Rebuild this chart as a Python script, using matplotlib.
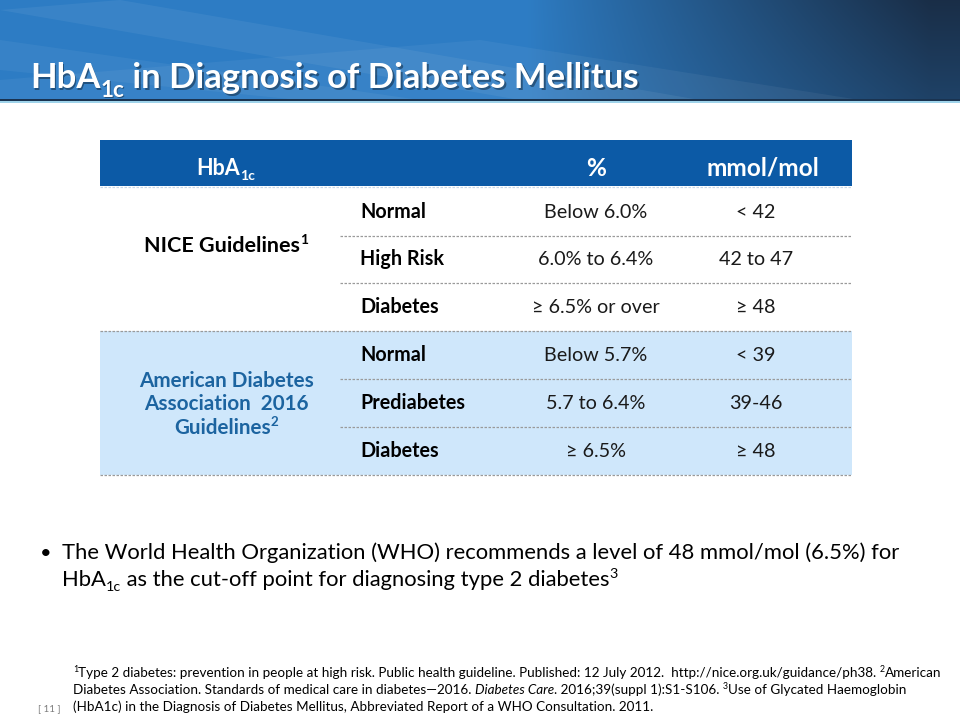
import matplotlib
matplotlib.use("Agg")
import matplotlib.pyplot as plt
from matplotlib.patches import Rectangle, Polygon
import numpy as np

FONT = ["Lato", "DejaVu Sans"]
plt.rcParams["font.family"] = FONT

# --- content ---
title_runs = [("HbA", {}), ("1c", {"sub": True}), (" in Diagnosis of Diabetes Mellitus", {})]
col_headers = ["%", "mmol/mol"]
nice_cats = ["Normal", "High Risk", "Diabetes"]
nice_pct = ["Below 6.0%", "6.0% to 6.4%", "\u2265 6.5% or over"]
nice_mmol = ["< 42", "42 to 47", "\u2265 48"]
ada_cats = ["Normal", "Prediabetes", "Diabetes"]
ada_pct = ["Below 5.7%", "5.7 to 6.4%", "\u2265 6.5%"]
ada_mmol = ["< 39", "39-46", "\u2265 48"]
ada_label = ["American Diabetes", "Association  2016", "Guidelines"]
bullet_line1 = [("The World Health Organization (WHO) recommends a level of 48 mmol/mol (6.5%) for", {})]
bullet_line2 = [("HbA", {}), ("1c", {"sub": True}),
                (" as the cut-off point for diagnosing type 2 diabetes", {}), ("3", {"sup": True})]
footnotes = [
    [("1", {"sup": True}), ("Type 2 diabetes: prevention in people at high risk. Public health guideline. "
                            "Published: 12 July 2012.  http://nice.org.uk/guidance/ph38. ", {}),
     ("2", {"sup": True}), ("American", {})],
    [("Diabetes Association. Standards of medical care in diabetes\u20142016. ", {}),
     ("Diabetes Care", {"style": "italic"}), (". 2016;39(suppl 1):S1-S106. ", {}),
     ("3", {"sup": True}), ("Use of Glycated Haemoglobin", {})],
    [("(HbA1c) in the Diagnosis of Diabetes Mellitus, Abbreviated Report of a WHO Consultation. 2011.", {})],
]

fig = plt.figure(figsize=(9.6, 7.2), dpi=100)
ax = fig.add_axes([0, 0, 1, 1])
ax.set_xlim(0, 960)
ax.set_ylim(720, 0)
ax.axis("off")
renderer = fig.canvas.get_renderer()


def runs_width(runs, size, **kw):
    w = 0
    for txt, opt in runs:
        s = size * 0.65 if (opt.get("sub") or opt.get("sup")) else size
        t = ax.text(0, 0, txt, fontsize=s, style=opt.get("style", "normal"), **kw)
        w += t.get_window_extent(renderer).width
        t.remove()
    return w


def fit_size(runs, width, **kw):
    # font size that makes the line as wide as in the slide
    return 10 * width / runs_width(runs, 10, **kw)


def draw_runs(x, y, runs, size, ha="left", **kw):
    if ha == "center":
        x = x - runs_width(runs, size, **kw) / 2
    for txt, opt in runs:
        s = size
        dy = 0
        if opt.get("sub"):
            s = size * 0.65
            dy = size * 0.25 * 100 / 72
        elif opt.get("sup"):
            s = size * 0.65
            dy = -size * 0.38 * 100 / 72
        t = ax.text(x, y + dy, txt, fontsize=s, style=opt.get("style", "normal"),
                    va="baseline", ha="left", **kw)
        x += t.get_window_extent(renderer).width


# --- header band (blue on the left, dark navy on the right) ---
gx = np.linspace(0, 1, 480)
gy = np.linspace(0, 1, 60)
blue = np.array([0.18, 0.49, 0.77])
navy = np.array([0.10, 0.18, 0.28])
t = np.clip((gx[None, :] - 0.55) / 0.42, 0, 1) ** 0.9
t = t * (1 - 0.25 * gy[:, None])
img = blue[None, None, :] + (navy - blue)[None, None, :] * t[:, :, None]
ax.imshow(img, extent=[0, 960, 100, 0], aspect="auto", zorder=0)
# soft light streaks
ax.add_patch(Polygon([[0, 10], [120, 0], [700, 100], [520, 100]], closed=True,
                     color="white", alpha=0.06, lw=0, zorder=1))
ax.add_patch(Polygon([[0, 40], [0, 70], [300, 100], [420, 100]], closed=True,
                     color="white", alpha=0.05, lw=0, zorder=1))
ax.add_patch(Polygon([[0, 100], [0, 80], [480, 40], [860, 100]], closed=True,
                     color="white", alpha=0.05, lw=0, zorder=1))
ax.add_patch(Rectangle((0, 99), 960, 1.5, color="#1a3350", lw=0, zorder=2))
ax.add_patch(Rectangle((0, 100.5), 960, 2.5, color="#9fd3ea", lw=0, zorder=2))

# title with shadow
ts = fit_size(title_runs, 610, weight="bold")
draw_runs(31.5, 89.5, title_runs, ts, color="#0d2236", weight="bold", alpha=0.5, zorder=3)
draw_runs(30, 88, title_runs, ts, color="white", weight="bold", zorder=4)

# --- table ---
x0, x1, xc = 100, 852, 340
ax.add_patch(Rectangle((x0, 140), x1 - x0, 46, color="#0c5aa6", lw=0))
ax.add_patch(Rectangle((x0, 331), x1 - x0, 144, color="#cfe7fb", lw=0))
draw_runs(226, 175, [("HbA", {}), ("1c", {"sub": True})], 15.5, ha="center",
          color="white", weight="bold")
hs = fit_size([(col_headers[1], {})], 113, weight="bold")
for x, h in zip([596, 763], col_headers):
    ax.text(x, 176, h, fontsize=hs, color="white", weight="bold", ha="center", va="baseline")

fs = fit_size([(nice_pct[2], {})], 128)
dash = dict(color="#9a9a9a", lw=0.9, ls=(0, (2, 1.2)))
ax.plot([x0, x1], [187, 187], color="#c8d8e8", lw=0.9, ls=(0, (2, 1.2)))
row_y = [212, 259, 307, 355, 403, 451]
cats = nice_cats + ada_cats
pcts = nice_pct + ada_pct
mmols = nice_mmol + ada_mmol
for i, y in enumerate(row_y):
    yb = y + 6
    ax.text(360, yb, cats[i], fontsize=fs, weight="bold", color="black", va="baseline")
    ax.text(596, yb, pcts[i], fontsize=fs, color="#1a1a1a", ha="center", va="baseline")
    ax.text(756, yb, mmols[i], fontsize=fs, color="#1a1a1a", ha="center", va="baseline")
    yl = y + 24
    if i in (2, 5):
        ax.plot([x0, x1], [yl, yl], **dash)
    else:
        ax.plot([xc, x1], [yl, yl], **dash)

ns = fit_size([("NICE Guidelines", {}), ("1", {"sup": True})], 164, weight="bold")
draw_runs(226, 252, [("NICE Guidelines", {}), ("1", {"sup": True})], ns, ha="center",
          color="black", weight="bold")
ada_col = "#1c64a0"
als = fit_size([(ada_label[0], {})], 175, weight="bold")
for j, line in enumerate(ada_label):
    runs = [(line, {})] + ([("2", {"sup": True})] if j == 2 else [])
    draw_runs(226, 387 + j * 23.5, runs, als, ha="center", color=ada_col, weight="bold")

# --- bullet ---
bs = fit_size(bullet_line1, 836)
ax.text(40, 559, "\u2022", fontsize=bs * 0.9, color="black", va="baseline")
draw_runs(62, 559, bullet_line1, bs, color="black")
draw_runs(62, 586, bullet_line2, bs, color="black")

# --- footnotes ---
fns = fit_size(footnotes[0], 867)
for k, line in enumerate(footnotes):
    draw_runs(73, 677 + k * 17, line, fns, color="black")
ax.text(38, 711, "[ 11 ]", fontsize=7, color="#7a7a7a", va="baseline")

fig.savefig("out.png", dpi=100)
